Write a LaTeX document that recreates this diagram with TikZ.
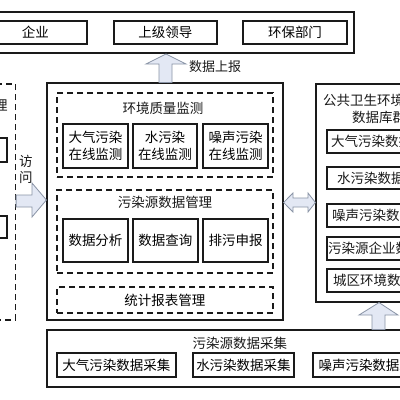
\documentclass[tikz,border=0pt]{standalone}
\usepackage{fontspec}
\setmainfont{Noto Sans CJK SC}
\definecolor{arrowfill}{HTML}{E3E8F4}
\definecolor{arrowline}{HTML}{8A94A6}
\definecolor{ink}{HTML}{1A1A1A}
\begin{document}
\begin{tikzpicture}[x=1pt,y=-1pt,
  font=\fontsize{13.5}{16.5}\selectfont,
  bx/.style={draw=ink,line width=1.2pt,inner sep=0pt,align=center},
  dbx/.style={draw=ink,line width=1.2pt,inner sep=0pt,dash pattern=on 6pt off 4pt},
  txt/.style={inner sep=0pt,text=ink},
  barrow/.style={draw=arrowline,fill=arrowfill,line width=0.8pt,line join=miter}]
\useasboundingbox (0,0) rectangle (400,400);
\fill[white] (0,0) rectangle (400,400);
\clip (0,0) rectangle (400,400);

% top group
\node[bx,minimum width=374pt,minimum height=41pt] (topgrp) at (167,32.5) {};
\node[bx,minimum width=103pt,minimum height=23pt] (qiye) at (35.5,32.5) {企业};
\node[bx,minimum width=103pt,minimum height=23pt] (lingdao) at (165.5,32.5) {上级领导};
\node[bx,minimum width=104pt,minimum height=23pt] (huanbao) at (295,32.5) {环保部门};

% left dashed group (cut off)
\node[dbx,minimum width=40pt,minimum height=236pt] (leftgrp) at (-4.5,202) {};
\node[txt] (lefttitle) at (1,105) {理};
\node[bx,minimum width=40pt,minimum height=24pt] (leftA) at (-13,150) {};
\node[bx,minimum width=40pt,minimum height=22pt] (leftB) at (-13,227) {};

% main platform
\node[bx,minimum width=236pt,minimum height=237pt] (main) at (165,201.5) {};
\node[dbx,minimum width=216pt,minimum height=84pt] (hjgrp) at (165,135) {};
\node[txt] (hjtitle) at (163,108) {环境质量监测};
\node[bx,minimum width=65pt,minimum height=44pt] (dq) at (95.5,146) {大气污染\\在线监测};
\node[bx,minimum width=64pt,minimum height=44pt] (sw) at (165,146) {水污染\\在线监测};
\node[bx,minimum width=65pt,minimum height=44pt] (zs) at (235.5,146) {噪声污染\\在线监测};

\node[dbx,minimum width=216pt,minimum height=83pt] (wrgrp) at (165,231.5) {};
\node[txt] (wrtitle) at (165,202) {污染源数据管理};
\node[bx,minimum width=65pt,minimum height=43pt] (fx) at (95.5,240.5) {数据分析};
\node[bx,minimum width=65pt,minimum height=43pt] (cx) at (165.5,240.5) {数据查询};
\node[bx,minimum width=65pt,minimum height=43pt] (sb) at (235.5,240.5) {排污申报};

\node[dbx,minimum width=216pt,minimum height=26pt] (tj) at (165,300) {统计报表管理};

% right database group
\node[bx,minimum width=124pt,minimum height=218pt] (dbgrp) at (378,193) {};
\node[txt,anchor=west] (dbt1) at (323,100) {公共卫生环境数据};
\node[txt,anchor=west] (dbt2) at (352,117) {数据库群};
\node[bx,minimum width=113pt,minimum height=23pt] (db1) at (383.5,141.5) {};
\node[txt,anchor=west] at (331,141.5) {大气污染数据库};
\node[bx,minimum width=113pt,minimum height=22pt] (db2) at (383.5,178) {};
\node[txt,anchor=west] at (337,178) {水污染数据库};
\node[bx,minimum width=113pt,minimum height=23pt] (db3) at (383.5,215.5) {};
\node[txt,anchor=west] at (332,215.5) {噪声污染数据库};
\node[bx,minimum width=113pt,minimum height=23pt] (db4) at (383.5,248.5) {};
\node[txt,anchor=west] at (328,248.5) {污染源企业数据库};
\node[bx,minimum width=113pt,minimum height=23pt] (db5) at (383.5,280.5) {};
\node[txt,anchor=west] at (333,280.5) {城区环境数据库};

% bottom collection group
\node[bx,minimum width=393pt,minimum height=57pt] (cj) at (243.5,358.5) {};
\node[txt] (cjtitle) at (240,343) {污染源数据采集};
\node[bx,minimum width=119pt,minimum height=24pt] (cj1) at (116.5,365) {大气污染数据采集};
\node[bx,minimum width=101pt,minimum height=24pt] (cj2) at (243.5,365) {水污染数据采集};
\node[bx,minimum width=119pt,minimum height=24pt] (cj3) at (372.5,365) {噪声污染数据采集};

% block arrows
\draw[barrow] (main.north -| 159,0) -- (159,64) -- (146,64) -- (166,54) -- (186,64) -- (172,64) -- (main.north -| 172,0) -- cycle;
\node[txt,anchor=west,font=\fontsize{13}{16}\selectfont] (sbtxt) at (189,67) {数据上报};

\draw[barrow] (leftgrp.east |- 0,195) -- (32,195) -- (32,183) -- (main.west |- 0,200) -- (32,217) -- (32,207) -- (leftgrp.east |- 0,207) -- cycle;
\node[txt] (fang) at (26,161) {访};
\node[txt] (wen) at (26,177) {问};

\draw[barrow] (main.east |- 0,202.5) -- (293,193) -- (293,198) -- (308,198) -- (308,193) -- (dbgrp.west |- 0,202.5) -- (308,212) -- (308,207) -- (293,207) -- (293,212) -- cycle;

\draw[barrow] (cj.north -| 372,0) -- (372,315) -- (359,315) -- (dbgrp.south -| 379,0) -- (398,315) -- (385,315) -- (cj.north -| 385,0) -- cycle;
\end{tikzpicture}
\end{document}
